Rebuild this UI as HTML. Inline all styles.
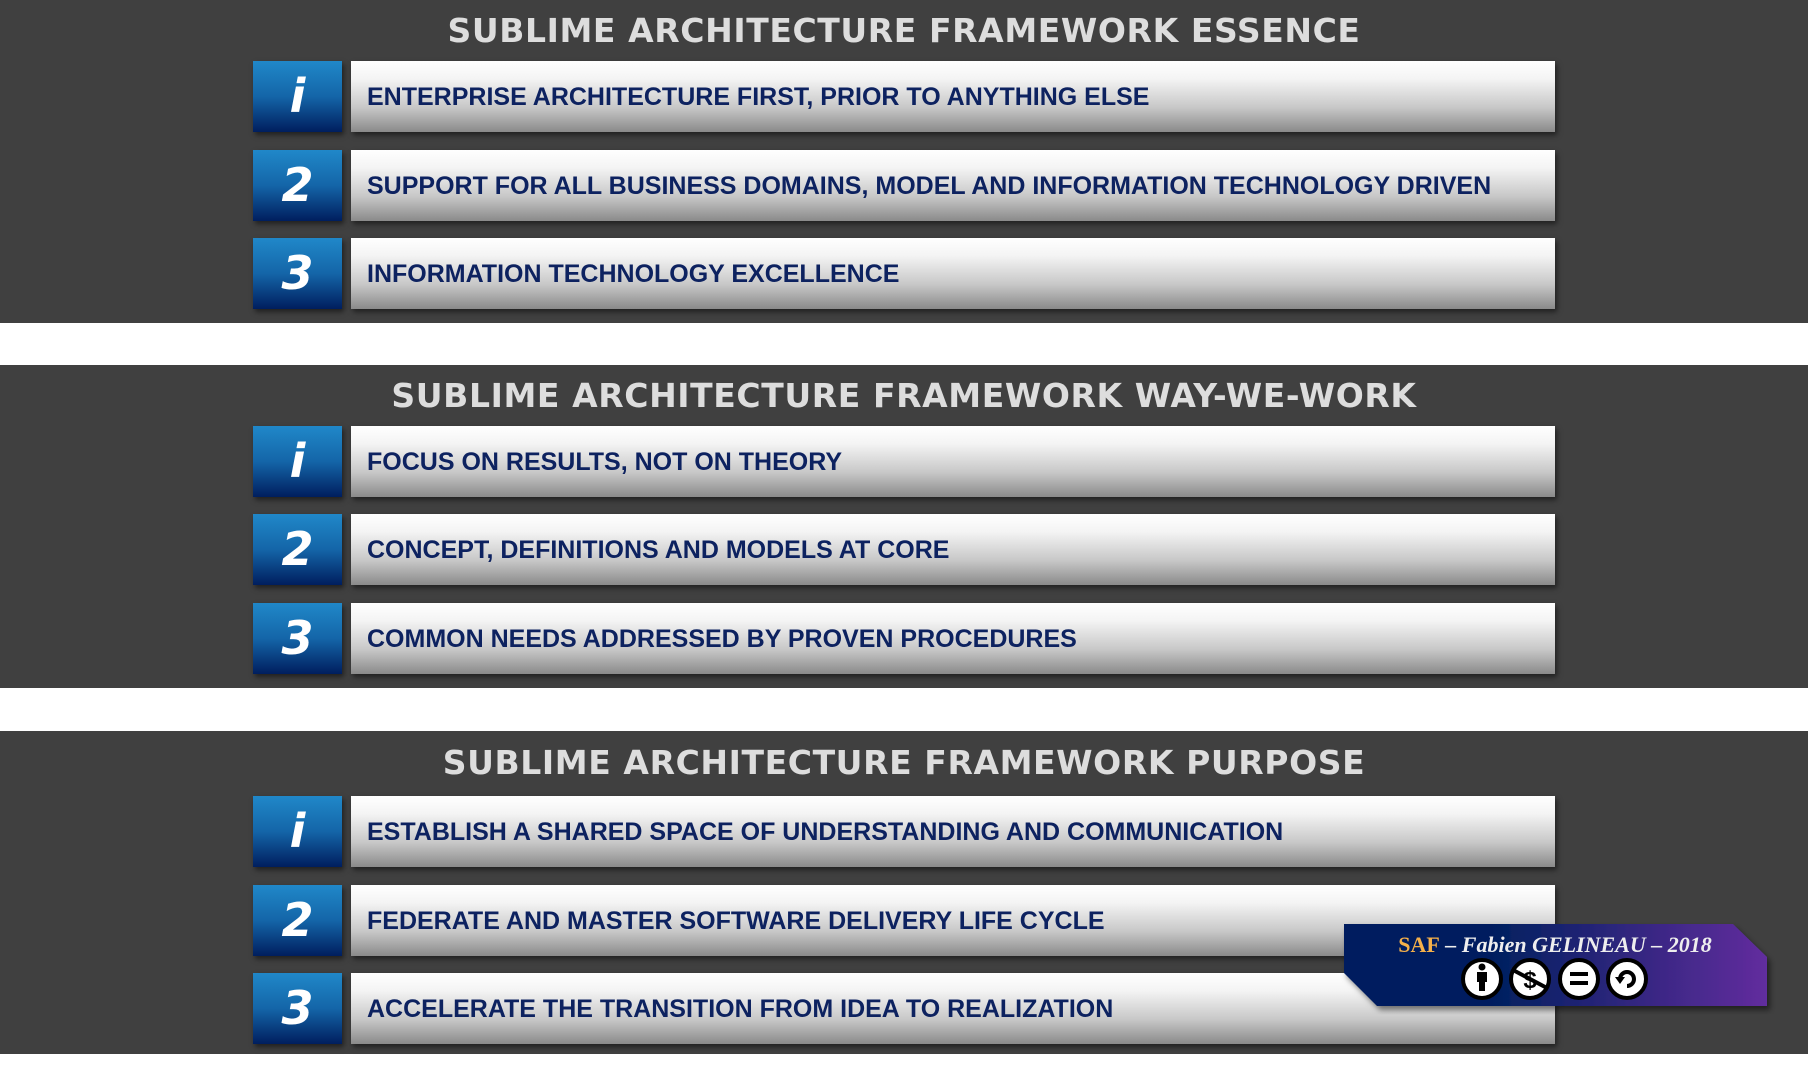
<!DOCTYPE html>
<html><head><meta charset="utf-8"><style>
body{margin:0;width:1808px;height:1084px;background:#fff;position:relative;overflow:hidden;font-family:"Liberation Sans",sans-serif}
.band{position:absolute;left:0;width:1808px;background:#404040}
.title{position:absolute;left:0;width:1808px;text-align:center;font-family:"DejaVu Sans",sans-serif;font-weight:bold;font-size:33px;color:#ddd;letter-spacing:0.6px;line-height:40px}
.num{position:absolute;left:253px;width:89px;height:71px;background:linear-gradient(#2088c9,#1465a8 50%,#001e5e);box-shadow:2px 3px 5px rgba(0,0,0,.5);color:#fff;font-weight:bold;font-style:italic;font-size:46px;text-align:center;line-height:71px;font-family:"DejaVu Sans",sans-serif}
.bar{position:absolute;left:351px;width:1204px;height:71px;background:linear-gradient(#fff,#f4f4f4 25%,#c8c8c8 65%,#8a8a8a);box-shadow:2px 3px 5px rgba(0,0,0,.5);color:#0d2260;font-weight:bold;font-size:25px;line-height:73px;padding-left:16px;box-sizing:border-box;white-space:nowrap}
</style></head><body>
<div class="band" style="top:0;height:323px"></div>
<div class="band" style="top:365px;height:323px"></div>
<div class="band" style="top:731px;height:323px"></div>
<div class="title" style="top:11px">SUBLIME ARCHITECTURE FRAMEWORK ESSENCE</div>
<div class="title" style="top:376px">SUBLIME ARCHITECTURE FRAMEWORK WAY-WE-WORK</div>
<div class="title" style="top:743px">SUBLIME ARCHITECTURE FRAMEWORK PURPOSE</div>

<div class="num" style="top:61px">i</div><div class="bar" style="top:61px">ENTERPRISE ARCHITECTURE FIRST, PRIOR TO ANYTHING ELSE</div>
<div class="num" style="top:150px">2</div><div class="bar" style="top:150px">SUPPORT FOR ALL BUSINESS DOMAINS, MODEL AND INFORMATION TECHNOLOGY DRIVEN</div>
<div class="num" style="top:238px">3</div><div class="bar" style="top:238px">INFORMATION TECHNOLOGY EXCELLENCE</div>

<div class="num" style="top:426px">i</div><div class="bar" style="top:426px">FOCUS ON RESULTS, NOT ON THEORY</div>
<div class="num" style="top:514px">2</div><div class="bar" style="top:514px">CONCEPT, DEFINITIONS AND MODELS AT CORE</div>
<div class="num" style="top:603px">3</div><div class="bar" style="top:603px">COMMON NEEDS ADDRESSED BY PROVEN PROCEDURES</div>

<div class="num" style="top:796px">i</div><div class="bar" style="top:796px">ESTABLISH A SHARED SPACE OF UNDERSTANDING AND COMMUNICATION</div>
<div class="num" style="top:885px">2</div><div class="bar" style="top:885px">FEDERATE AND MASTER SOFTWARE DELIVERY LIFE CYCLE</div>
<div class="num" style="top:973px">3</div><div class="bar" style="top:973px">ACCELERATE THE TRANSITION FROM IDEA TO REALIZATION</div>

<svg style="position:absolute;left:0;top:0" width="1808" height="1084">
<defs><linearGradient id="g" x1="0" y1="0" x2="1" y2="0"><stop offset="0.35" stop-color="#001f5f"/><stop offset="1" stop-color="#622d9e"/></linearGradient>
<filter id="s"><feDropShadow dx="3" dy="4" stdDeviation="3" flood-opacity=".5"/></filter></defs>
<polygon points="1344,924 1733,924 1767,957 1767,1006 1377,1006 1344,973" fill="url(#g)" filter="url(#s)"/>
<text x="1555" y="952" text-anchor="middle" font-family="Liberation Serif,serif" font-weight="bold" font-style="italic" font-size="22" fill="#eee"><tspan fill="#f5b04a" font-style="normal">SAF</tspan> – Fabien GELINEAU – 2018</text>
<g stroke="#000" stroke-width="4" fill="#fff">
<circle cx="1482" cy="979" r="19"/><circle cx="1530" cy="979" r="19"/><circle cx="1579" cy="979" r="19"/><circle cx="1627" cy="979" r="19"/></g>
<circle cx="1482" cy="967" r="3.5"/><rect x="1477" y="972" width="10" height="10"/><rect x="1479" y="980" width="6" height="11"/>
<text x="1530" y="988" text-anchor="middle" font-family="Liberation Sans" font-weight="bold" font-size="24">$</text>
<line x1="1513" y1="970" x2="1547" y2="988" stroke="#000" stroke-width="4"/>
<rect x="1570" y="972" width="18" height="4"/><rect x="1570" y="981" width="18" height="4"/>
<path d="M1620,979 a7,7 0 1 1 7,7" fill="none" stroke="#000" stroke-width="4"/><polygon points="1615,977 1625,977 1620,984"/>
</svg>
</body></html>
